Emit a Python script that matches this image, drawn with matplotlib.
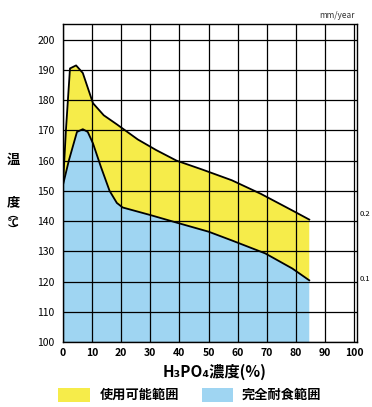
# -*- coding: utf-8 -*-
import numpy as np
import matplotlib
matplotlib.use('Agg')
import matplotlib.pyplot as plt
from matplotlib.patches import Rectangle

plt.rcParams['font.family'] = ['Noto Sans CJK JP', 'DejaVu Sans']

# 使用可能範囲 upper boundary (H3PO4 %, temp C)
usable_x = [0, 1, 2.4, 4.5, 6.8, 10.3, 14, 18.5, 25.7, 32, 39, 48, 58, 68, 78.8, 84.6]
usable_t = [152, 170, 190.5, 191.5, 189, 179, 175, 172, 167, 163.5, 160, 157, 153.5, 149, 143.5, 140.5]

# 完全耐食範囲 upper boundary
resist_x = [0, 2, 4.8, 6.8, 8.5, 10.3, 13, 16, 18.5, 20.5, 30, 39, 50, 58, 69.5, 78.8, 84.6]
resist_t = [152, 160, 169.5, 170.4, 169.5, 165.7, 158, 150, 146, 144.5, 142, 139.5, 136.5, 133.6, 129.3, 124.3, 120.4]

x_ticks = [0, 10, 20, 30, 40, 50, 60, 70, 80, 90, 100]
y_ticks = [100, 110, 120, 130, 140, 150, 160, 170, 180, 190, 200]
legend_labels = ['使用可能範囲', '完全耐食範囲']
right_labels = ['0.2', '0.1']
right_label_t = [142.5, 121]

yellow = '#f6ec4a'
blue = '#9fd5f2'

fig = plt.figure(figsize=(3.72, 4.07), dpi=100)
ax = fig.add_axes([63/372, 1-342/407, (357-63)/372, (342-24)/407])

# yellow: between usable curve and resist curve
yx = usable_x + resist_x[::-1]
yt = usable_t + resist_t[::-1]
ax.fill(yx, yt, color=yellow, lw=0, zorder=1)
# blue: below resist curve
bx = resist_x + [resist_x[-1], 0]
bt = resist_t + [100, 100]
ax.fill(bx, bt, color=blue, lw=0, zorder=1)

ax.plot(usable_x, usable_t, color='black', lw=1.3, zorder=3)
ax.plot(resist_x, resist_t, color='black', lw=1.3, zorder=3)

ax.set_xlim(0, 101)
ax.set_ylim(100, 205.2)
ax.set_xticks(x_ticks)
ax.set_yticks(y_ticks)
ax.grid(True, color='black', lw=0.9, zorder=2)
ax.set_axisbelow(False)
ax.tick_params(length=0)
ax.tick_params(axis='y', pad=6, labelsize=7.5)
ax.tick_params(axis='x', pad=4, labelsize=7.5)
for lab in ax.get_xticklabels():
    lab.set_fontweight('bold')
for s in ax.spines.values():
    s.set_linewidth(1.0)

ax.set_xlabel('H₃PO₄濃度(%)', fontsize=11, fontweight='bold', labelpad=3)
ax.xaxis.set_label_coords((215-63)/(357-63), -0.07)

# y label stacked vertically
fig.text(13/372, 1-160/407, '温', fontsize=9.5, fontweight='bold', ha='center', va='center')
fig.text(13/372, 1-202/407, '度', fontsize=9.5, fontweight='bold', ha='center', va='center')
fig.text(13/372, 1-223/407, '︵\n℃\n︶', fontsize=7.5, fontweight='bold', ha='center', va='center',
         linespacing=0.75, multialignment='center')

fig.text(355/372, 1-15/407, 'mm/year', fontsize=6, ha='right', va='center', color='#333333')
for lab, t in zip(right_labels, right_label_t):
    ax.text(101.8, t, lab, fontsize=5.5, ha='left', va='center', clip_on=False)

# legend
fig.patches.append(Rectangle((58/372, 1-402/407), 32/372, 14/407, transform=fig.transFigure,
                             facecolor=yellow, edgecolor='none'))
fig.text(100/372, 1-395/407, legend_labels[0], fontsize=9.5, fontweight='bold', va='center')
fig.patches.append(Rectangle((202/372, 1-402/407), 31/372, 14/407, transform=fig.transFigure,
                             facecolor=blue, edgecolor='none'))
fig.text(242/372, 1-395/407, legend_labels[1], fontsize=9.5, fontweight='bold', va='center')

fig.savefig('out.png', dpi=100)
